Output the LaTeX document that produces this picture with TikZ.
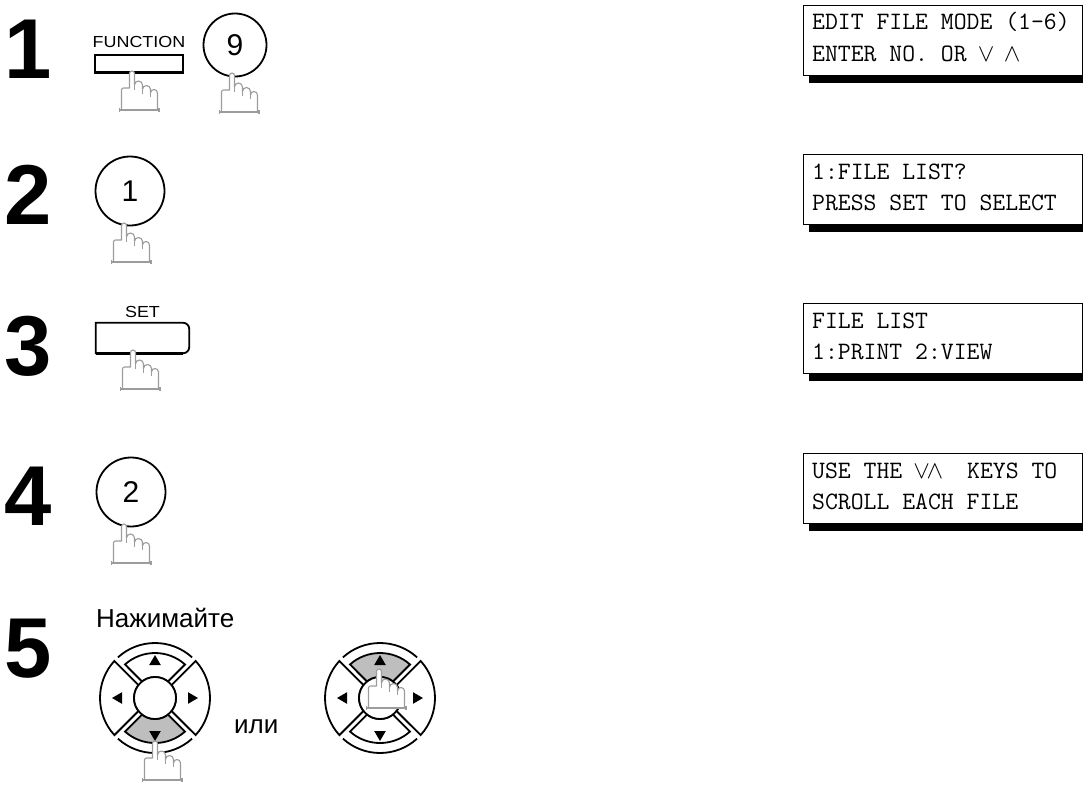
\documentclass[tikz,border=0pt]{standalone}
\usepackage{fontspec}
\setmainfont{Liberation Sans}
\usetikzlibrary{positioning}

\definecolor{handgray}{HTML}{9C9C9C}
\definecolor{keygray}{HTML}{BEBEBE}

\newcommand{\lcdvee}{\makebox[0.525em]{$\vee$}}
\newcommand{\lcdwedge}{\makebox[0.525em]{$\wedge$}}

\tikzset{
    handline/.style={draw=handgray, line width=1.1pt, line join=round},
    padline/.style={line width=1.8pt},
    % pointing hand, fingertip at the origin
    pics/fingerhand/.style={code={
        \draw[handline, fill=white] (-10.5,-39) -- (-10.5,-19) arc[start angle=180, end angle=90, radius=2]
            -- (-2.5,-17) -- (-2.5,-2.5) arc[start angle=180, end angle=0, radius=2.5]
            -- (2.5,-14) arc[start angle=180, end angle=0, radius=4]
            -- (10.5,-18.5) arc[start angle=180, end angle=0, radius=4]
            -- (18.5,-22) arc[start angle=180, end angle=0, radius=3.5]
            -- (25.5,-39) -- cycle;
        \draw[handline] (2.5,-14) -- (2.5,-19) (10.5,-18.5) -- (10.5,-23) (18.5,-22) -- (18.5,-26);
        \draw[handline] (-12.5,-39) -- (27,-39) (-12.5,-37) -- (-12.5,-41) (27,-37) -- (27,-41);
    }},
    % four way key, #1 = angle of the grey segment
    pics/dpad/.style={code={
        \foreach \a/\r in {0/55, 90/45, 180/55, 270/45} {
            \ifnum\a=#1 \def\segfill{keygray}\else\def\segfill{white}\fi
            \pgfmathsetmacro\da{asin(2.5/\r)}
            \draw[padline, fill=\segfill] ({\a-45+\da}:\r) arc[start angle={\a-45+\da}, end angle={\a+45-\da}, radius=\r]
                -- ({\a+45-6.8}:21) arc[start angle={\a+45-6.8}, end angle={\a-45+6.8}, radius=21] -- cycle;
        }
        \draw[padline, fill=white] (0,0) circle[radius=21];
        \foreach \a in {90,270}
            \draw[padline] ({\a-42.4}:55) arc[start angle={\a-42.4}, end angle={\a+42.4}, radius=55];
        \foreach \a in {0,90,180,270}
            \fill[rotate=\a] (43,0) -- (33,5.8) -- (33,-5.8) -- cycle;
    }}
}

\begin{document}
\begin{tikzpicture}[x=1pt, y=1pt,
    stepnum/.style={font=\bfseries\fontsize{85}{85}\selectfont, inner sep=0pt, anchor=base},
    keylabel/.style={font=\fontsize{16}{16}\selectfont, inner sep=0pt},
    roundkey/.style={draw, circle, line width=1.8pt, minimum size=69pt, inner sep=0pt, font=\fontsize{30}{30}\selectfont},
    keyline/.style={line width=1.8pt},
    lcdframe/.style={draw, line width=1.2pt, minimum width=279pt, minimum height=70pt, inner sep=0pt, anchor=north west},
    lcdtext/.style={font=\ttfamily\fontsize{25}{25}\selectfont, inner sep=0pt, anchor=base west},
    wordtext/.style={font=\fontsize{26}{26}\selectfont, inner sep=0pt, anchor=base west}
    ]
    \useasboundingbox (0,0) rectangle (1083,-784);

    % step numbers
    \foreach \n/\y in {1/78, 2/224, 3/375, 4/525, 5/677}
        \node[stepnum] (step\n) at (28,-\y) {\n};

    % step 1
    \node[draw, keyline, minimum width=88pt, minimum height=17pt, inner sep=0pt] (fnkey) at (139,-63.5) {};
    \draw[line width=3pt] (fnkey.south west) -- (fnkey.south east);
    \node[keylabel, above=6pt of fnkey] (fnlabel) {\scalebox{1.12}[1]{FUNCTION}};
    \pic at (132,-71) {fingerhand};
    \node[roundkey, minimum size=63pt] (key9) at (235,-45) {9};
    \pic at (232,-73) {fingerhand};

    % step 2
    \node[roundkey] (key1) at (130,-191) {1};
    \pic at (124,-223) {fingerhand};

    % step 3
    \node[minimum width=93pt, minimum height=30pt, inner sep=0pt] (setkey) at (142.5,-338) {};
    \draw[keyline] (setkey.north west) -- ([xshift=-6pt]setkey.north east)
        arc[start angle=90, end angle=0, radius=6] -- ([yshift=6pt]setkey.south east)
        arc[start angle=0, end angle=-90, radius=6] -- (setkey.south west) -- cycle;
    \draw[line width=3pt] (setkey.south west) -- ([xshift=-6pt]setkey.south east);
    \node[keylabel, above=5pt of setkey] (setlabel) {\scalebox{1.12}[1]{SET}};
    \pic at (133,-350) {fingerhand};

    % step 4
    \node[roundkey] (key2) at (131,-492) {2};
    \pic at (124,-524) {fingerhand};

    % step 5
    \node[wordtext] (press) at (96,-627) {Нажимайте};
    \pic (padleft) at (155,-698) {dpad=270};
    \pic at (155,-741) {fingerhand};
    \node[wordtext] (orword) at (234,-733) {или};
    \pic (padright) at (380,-698) {dpad=90};
    \pic at (379,-669) {fingerhand};

    % display messages
    \foreach \n/\t/\la/\lb in {
        1/5/{EDIT FILE MODE (1-6)}/{ENTER NO. OR \lcdvee\ \lcdwedge},
        2/154/{1:FILE LIST?}/{PRESS SET TO SELECT},
        3/303/{FILE LIST}/{1:PRINT 2:VIEW},
        4/453/{USE THE \lcdvee\lcdwedge\ \ KEYS TO}/{SCROLL EACH FILE}} {
        \node[lcdframe] (lcd\n) at (803,-\t) {};
        \fill ([xshift=6pt]lcd\n.south west) rectangle ([xshift=1pt, yshift=-7pt]lcd\n.south east);
        \node[lcdtext] (lcd\n-a) at ([xshift=9pt, yshift=-25pt]lcd\n.north west) {\la};
        \node[lcdtext] (lcd\n-b) at ([xshift=9pt, yshift=-56pt]lcd\n.north west) {\lb};
    }

\end{tikzpicture}
\end{document}
